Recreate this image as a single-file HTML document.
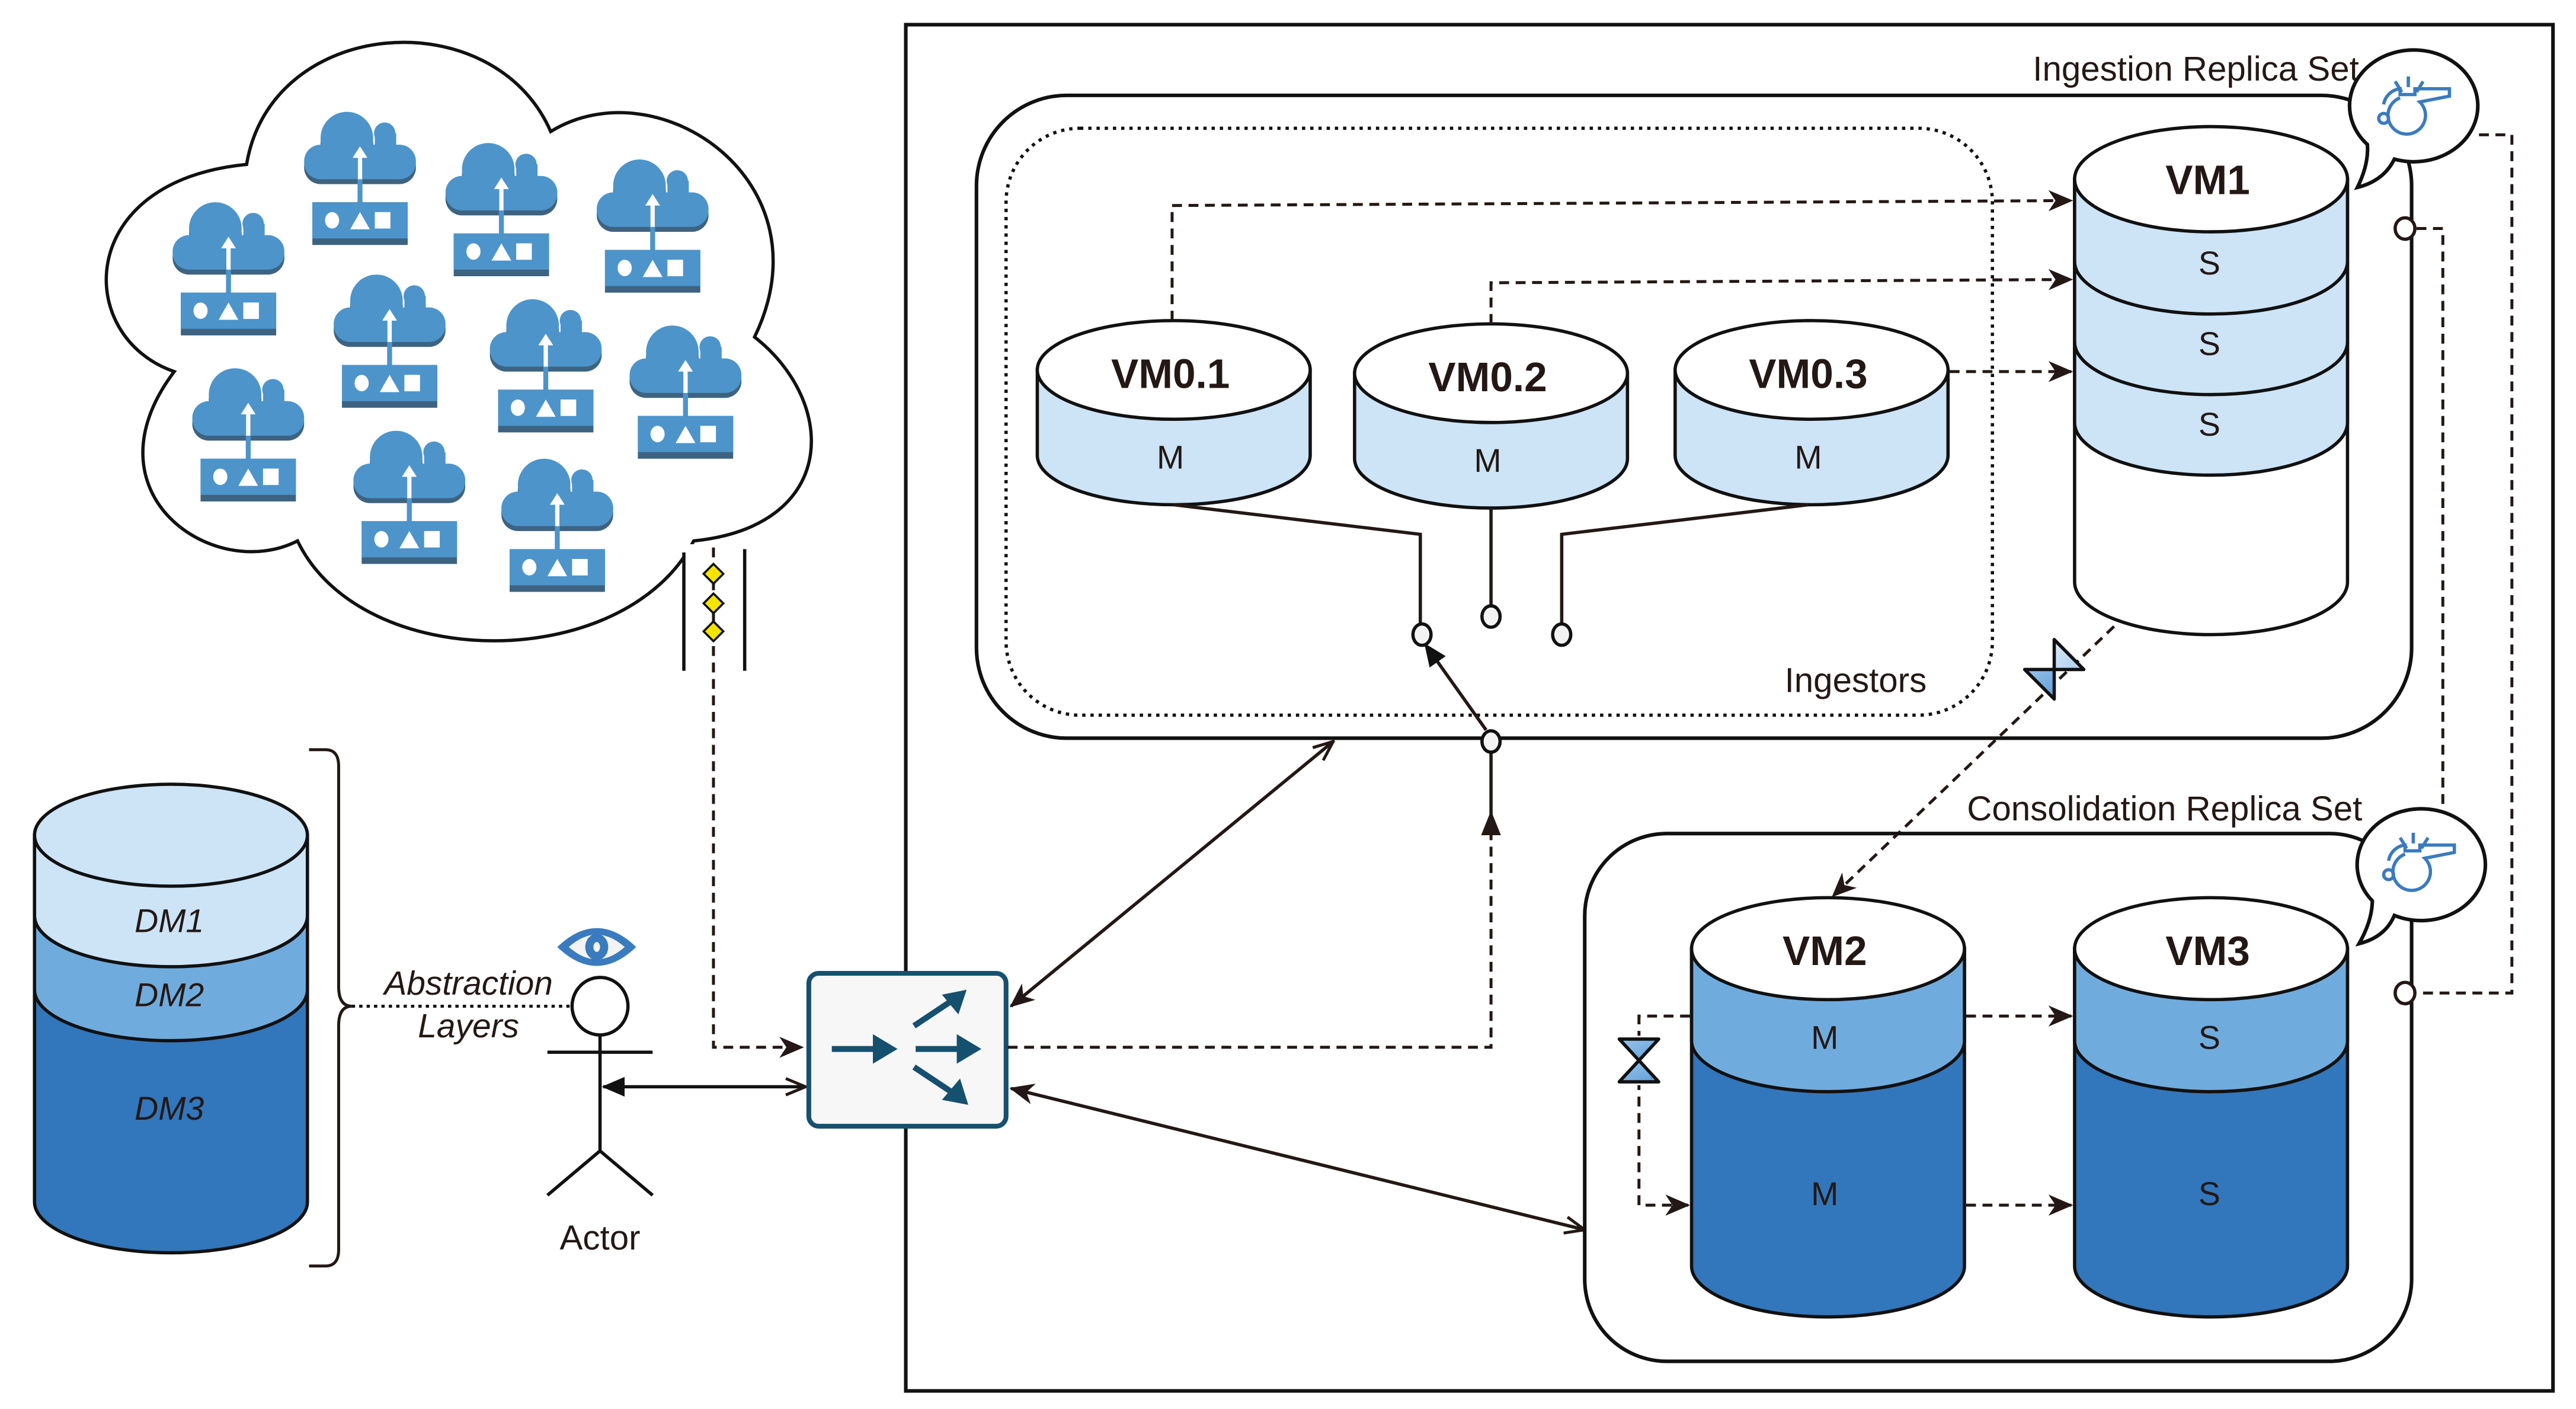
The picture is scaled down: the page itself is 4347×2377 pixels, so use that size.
<!DOCTYPE html>
<html><head><meta charset="utf-8"><style>
html,body{margin:0;padding:0;background:#fff;}
svg{display:block;}
text{font-family:"Liberation Sans",sans-serif;fill:#231815;}
</style></head><body>
<svg width="4347" height="2377" viewBox="0 0 1567 857" preserveAspectRatio="none" xmlns="http://www.w3.org/2000/svg">
<defs>
<marker id="st" viewBox="0 0 14 12" refX="13" refY="6" markerWidth="15" markerHeight="13" markerUnits="userSpaceOnUse" orient="auto-start-reverse">
<path d="M0,0 L14,6 L0,12 L4,6 Z" fill="#231815"/></marker>
<marker id="tri" viewBox="0 0 14 12" refX="13" refY="6" markerWidth="14" markerHeight="12" markerUnits="userSpaceOnUse" orient="auto-start-reverse">
<path d="M0,0 L14,6 L0,12 Z" fill="#111"/></marker>
<marker id="opn" viewBox="0 0 14 12" refX="13" refY="6" markerWidth="14" markerHeight="12" markerUnits="userSpaceOnUse" orient="auto-start-reverse">
<path d="M1,1 L13,6 L1,11" fill="none" stroke="#231815" stroke-width="1.8"/></marker>
<linearGradient id="vg1" x1="0" y1="0" x2="1" y2="1"><stop offset="0" stop-color="#dbeaf8"/><stop offset="1" stop-color="#a9cdef"/></linearGradient>
<linearGradient id="vg2" x1="0" y1="0" x2="1" y2="1"><stop offset="0" stop-color="#9cc4ea"/><stop offset="1" stop-color="#5e9fdb"/></linearGradient>
<g id="ic">
<rect x="-34" y="-45" width="68" height="21" rx="10" fill="#3d6381"/>
<circle cx="-8" cy="-49" r="16" fill="#3d6381"/>
<rect x="-34" y="-48" width="68" height="21" rx="10" fill="#4d94cb"/>
<circle cx="-8" cy="-52" r="16" fill="#4d94cb"/>
<circle cx="15" cy="-55" r="6.5" fill="#4d94cb"/>
<rect x="9" y="-55" width="13" height="10" fill="#4d94cb"/>
<rect x="-1.5" y="-28" width="3" height="16" fill="#4d94cb"/>
<rect x="-1.3" y="-41" width="2.6" height="14" fill="#fff"/>
<path d="M-4.5,-40 L0,-47 L4.5,-40 Z" fill="#fff"/>
<rect x="-29" y="-13" width="58" height="26" fill="#3d6381"/>
<rect x="-29" y="-13" width="58" height="22" fill="#4d94cb"/>
<ellipse cx="-17" cy="-2" rx="4.3" ry="5" fill="#fff"/>
<path d="M-6,3.5 L0,-7 L6,3.5 Z" fill="#fff"/>
<rect x="9" y="-7" width="9.5" height="10" fill="#fff"/>
</g>
<g id="wh" fill="none" stroke="#3a7bbf" stroke-width="2">
<path d="M-5,-10 A11.4,11.4 0 1 0 7,-7.5 L25,-11 L25,-15.5 L4,-15.5 L4,-12 L-5,-12 L-5,-15.5 A11.4 11.4 0 0 0 -15,-6"/>
<circle cx="-15" cy="2.5" r="3"/>
<path d="M-8,-20 L-4,-13.5 M0,-23 L0,-16.5 M9,-20 L5,-13.5"/>
</g>
</defs>

<rect x="551" y="15" width="1002" height="831" fill="none" stroke="#111" stroke-width="2.2"/>

<path d="M150,100 C165,10 300,0 335,80 C400,40 505,110 459,205 C510,245 510,320 422,329 C380,410 220,410 181,329 C130,355 50,300 106,226 C45,205 45,110 150,100 Z" fill="#fff" stroke="#111" stroke-width="2"/>
<use href="#ic" x="219" y="136"/>
<use href="#ic" x="305" y="155"/>
<use href="#ic" x="397" y="165"/>
<use href="#ic" x="139" y="191"/>
<use href="#ic" x="237" y="235"/>
<use href="#ic" x="332" y="250"/>
<use href="#ic" x="417" y="266"/>
<use href="#ic" x="151" y="292"/>
<use href="#ic" x="249" y="330"/>
<use href="#ic" x="339" y="347"/>
<rect x="416" y="331" width="37" height="8" fill="#fff"/>
<line x1="416" y1="336" x2="416" y2="408" stroke="#111" stroke-width="2"/>
<line x1="453" y1="334" x2="453" y2="408" stroke="#111" stroke-width="2"/>
<path d="M434,333 V637 H488" fill="none" stroke="#231815" stroke-width="1.8" stroke-dasharray="6,4" marker-end="url(#st)"/>
<g fill="#f5e400" stroke="#111" stroke-width="1.3">
<path d="M434,343 L440,349 L434,355 L428,349 Z"/>
<path d="M434,361 L440,367 L434,373 L428,367 Z"/>
<path d="M434,378 L440,384 L434,390 L428,384 Z"/>
</g>

<path d="M21,508 V731 A83,31 0 0 0 187,731 V508 Z" fill="#3276bb" stroke="#111" stroke-width="2"/>
<path d="M21,508 V602 A83,31 0 0 0 187,602 V508 Z" fill="#70abdd" stroke="#111" stroke-width="2"/>
<path d="M21,508 V557 A83,31 0 0 0 187,557 V508 Z" fill="#cde3f6" stroke="#111" stroke-width="2"/>
<ellipse cx="104" cy="508" rx="83" ry="31" fill="#cde3f6" stroke="#111" stroke-width="2"/>
<text x="103" y="567" font-size="20" font-style="italic" text-anchor="middle">DM1</text>
<text x="103" y="612" font-size="20" font-style="italic" text-anchor="middle">DM2</text>
<text x="103" y="681" font-size="20" font-style="italic" text-anchor="middle">DM3</text>
<path d="M188,456 H198 Q206,456 206,466 V600 Q206,612 214,612 M214,612 Q206,612 206,624 V760 Q206,770 198,770 H188" fill="none" stroke="#231815" stroke-width="1.8"/>
<line x1="214" y1="612" x2="348" y2="612" stroke="#111" stroke-width="1.8" stroke-dasharray="2,2.5"/>
<text x="285" y="605" font-size="20.5" font-style="italic" text-anchor="middle">Abstraction</text>
<text x="285" y="631" font-size="20.5" font-style="italic" text-anchor="middle">Layers</text>

<path d="M339,576 Q363,553 387,576 Q363,599 339,576 Z" fill="#3a7bbf"/>
<path d="M346,576 Q363,561 380,576 Q363,591 346,576 Z" fill="#f3f3f3"/>
<ellipse cx="363" cy="576" rx="7" ry="8" fill="#3a7bbf"/>
<ellipse cx="363" cy="576" rx="2" ry="3" fill="#f3f3f3"/>
<ellipse cx="365" cy="612" rx="17" ry="17.5" fill="#fff" stroke="#111" stroke-width="2"/>
<path d="M365,630 V700 L333,727 M365,700 L397,727 M333,640 H397" fill="none" stroke="#111" stroke-width="2"/>
<text x="365" y="760" font-size="21" text-anchor="middle">Actor</text>
<line x1="367" y1="661" x2="490" y2="661" stroke="#111" stroke-width="2" marker-start="url(#tri)" marker-end="url(#opn)"/>

<rect x="492" y="592" width="120" height="93" rx="6" fill="#f7f7f7" stroke="#15506f" stroke-width="2.9"/>
<g fill="#15506f" stroke="#15506f">
<line x1="506" y1="638" x2="532" y2="638" stroke-width="3.6"/>
<path d="M531,629 L546,638 L531,647 Z" stroke="none"/>
<line x1="557" y1="638" x2="583" y2="638" stroke-width="3.6"/>
<path d="M582,629 L597,638 L582,647 Z" stroke="none"/>
<line x1="556" y1="624" x2="580" y2="608" stroke-width="3.6"/>
<path d="M588,602 L583,617 L573,605 Z" stroke="none"/>
<line x1="556" y1="649" x2="580" y2="665" stroke-width="3.6"/>
<path d="M589,672 L573,669 L584,656 Z" stroke="none"/>
</g>
<line x1="615" y1="612" x2="811" y2="451" stroke="#231815" stroke-width="2" marker-start="url(#st)" marker-end="url(#opn)"/>
<line x1="615" y1="662" x2="964" y2="748" stroke="#231815" stroke-width="2" marker-start="url(#st)" marker-end="url(#opn)"/>
<path d="M613,637 H907 V498" fill="none" stroke="#231815" stroke-width="1.8" stroke-dasharray="6,4"/>

<rect x="594" y="58" width="873" height="391" rx="55" fill="none" stroke="#111" stroke-width="2.2"/>
<rect x="612" y="78" width="600" height="357" rx="45" fill="none" stroke="#111" stroke-width="2" stroke-dasharray="2,3"/>
<text x="1435" y="49" font-size="21" text-anchor="end">Ingestion Replica Set</text>
<text x="1172" y="421" font-size="21" text-anchor="end">Ingestors</text>

<g stroke="#111" stroke-width="2">
<path d="M631,225 V277 A83,30 0 0 0 797,277 V225 Z" fill="#cde3f6"/>
<ellipse cx="714" cy="225" rx="83" ry="30" fill="#fff"/>
<path d="M824,227 V279 A83,30 0 0 0 990,279 V227 Z" fill="#cde3f6"/>
<ellipse cx="907" cy="227" rx="83" ry="30" fill="#fff"/>
<path d="M1019,225 V277 A83,30 0 0 0 1185,277 V225 Z" fill="#cde3f6"/>
<ellipse cx="1102" cy="225" rx="83" ry="30" fill="#fff"/>
</g>
<text x="712" y="236" font-size="25" font-weight="bold" text-anchor="middle">VM0.1</text>
<text x="905" y="238" font-size="25" font-weight="bold" text-anchor="middle">VM0.2</text>
<text x="1100" y="236" font-size="25" font-weight="bold" text-anchor="middle">VM0.3</text>
<text x="712" y="285" font-size="20" text-anchor="middle">M</text>
<text x="905" y="287" font-size="20" text-anchor="middle">M</text>
<text x="1100" y="285" font-size="20" text-anchor="middle">M</text>
<path d="M714,307 L864,325 V380 M907,309 V369 M1100,307 L950,325 V379" fill="none" stroke="#231815" stroke-width="2"/>
<g fill="#f3f3f3" stroke="#111" stroke-width="2">
<ellipse cx="865" cy="386" rx="5.5" ry="6.5"/>
<ellipse cx="907" cy="375" rx="5.5" ry="6.5"/>
<ellipse cx="950" cy="386" rx="5.5" ry="6.5"/>
</g>
<line x1="907" y1="508" x2="907" y2="458" stroke="#231815" stroke-width="2"/>
<path d="M901,508 L907,493 L913,508 Z" fill="#231815"/>
<line x1="904" y1="444" x2="867" y2="392" stroke="#231815" stroke-width="2" marker-end="url(#tri)"/>
<ellipse cx="907" cy="451" rx="5.5" ry="6.5" fill="#f3f3f3" stroke="#111" stroke-width="2"/>
<path d="M713,195 V125 L1260,122" fill="none" stroke="#231815" stroke-width="1.8" stroke-dasharray="6,4" marker-end="url(#st)"/>
<path d="M907,197 V172 L1260,170" fill="none" stroke="#231815" stroke-width="1.8" stroke-dasharray="6,4" marker-end="url(#st)"/>
<path d="M1186,226 H1260" fill="none" stroke="#231815" stroke-width="1.8" stroke-dasharray="6,4" marker-end="url(#st)"/>

<g stroke="#111" stroke-width="2">
<path d="M1262,109 V354 A83,32 0 0 0 1428,354 V109 Z" fill="#fff"/>
<path d="M1262,109 V257 A83,32 0 0 0 1428,257 V109 Z" fill="#cde3f6"/>
<path d="M1262,159 A83,32 0 0 0 1428,159 M1262,208 A83,32 0 0 0 1428,208" fill="none"/>
<ellipse cx="1345" cy="109" rx="83" ry="32" fill="#fff"/>
</g>
<text x="1343" y="118" font-size="25" font-weight="bold" text-anchor="middle">VM1</text>
<text x="1344" y="167" font-size="20" text-anchor="middle">S</text>
<text x="1344" y="216" font-size="20" text-anchor="middle">S</text>
<text x="1344" y="265" font-size="20" text-anchor="middle">S</text>

<line x1="1286" y1="381" x2="1115" y2="545" stroke="#231815" stroke-width="1.8" stroke-dasharray="6,4" marker-end="url(#st)"/>
<g stroke="#111" stroke-width="2" stroke-linejoin="round">
<path d="M1249.6,389 L1249.6,407.2 L1267.6,407.2 Z" fill="url(#vg1)"/>
<path d="M1231.6,407.2 L1249.6,407.2 L1249.6,425.2 Z" fill="url(#vg2)"/>
</g>

<rect x="964" y="507" width="503" height="321" rx="50" fill="none" stroke="#111" stroke-width="2.2"/>
<text x="1437" y="499" font-size="21" text-anchor="end">Consolidation Replica Set</text>
<g stroke="#111" stroke-width="2">
<path d="M1029,577 V770 A83,31 0 0 0 1195,770 V577 Z" fill="#3276bb"/>
<path d="M1029,577 V633 A83,31 0 0 0 1195,633 V577 Z" fill="#70abdd"/>
<ellipse cx="1112" cy="577" rx="83" ry="31" fill="#fff"/>
<path d="M1262,577 V770 A83,31 0 0 0 1428,770 V577 Z" fill="#3276bb"/>
<path d="M1262,577 V633 A83,31 0 0 0 1428,633 V577 Z" fill="#70abdd"/>
<ellipse cx="1345" cy="577" rx="83" ry="31" fill="#fff"/>
</g>
<text x="1110" y="587" font-size="25" font-weight="bold" text-anchor="middle">VM2</text>
<text x="1343" y="587" font-size="25" font-weight="bold" text-anchor="middle">VM3</text>
<text x="1110" y="638" font-size="20" text-anchor="middle">M</text>
<text x="1110" y="733" font-size="20" text-anchor="middle">M</text>
<text x="1344" y="638" font-size="20" text-anchor="middle">S</text>
<text x="1344" y="733" font-size="20" text-anchor="middle">S</text>
<path d="M1028,618 H997 V733 H1027" fill="none" stroke="#231815" stroke-width="1.8" stroke-dasharray="6,4" marker-end="url(#st)"/>
<g stroke="#111" stroke-width="2" stroke-linejoin="round">
<rect x="990" y="630" width="14" height="30" fill="#fff" stroke="none"/>
<path d="M985,632 L1009,632 L997,645 Z" fill="url(#vg2)"/>
<path d="M985,658 L1009,658 L997,645 Z" fill="url(#vg2)"/>
</g>
<path d="M1196,618 H1260" fill="none" stroke="#231815" stroke-width="1.8" stroke-dasharray="6,4" marker-end="url(#st)"/>
<path d="M1196,733 H1260" fill="none" stroke="#231815" stroke-width="1.8" stroke-dasharray="6,4" marker-end="url(#st)"/>

<path d="M1508,82 H1528 V604 H1470" fill="none" stroke="#231815" stroke-width="1.8" stroke-dasharray="6,4"/>
<path d="M1470,139 H1486 V490" fill="none" stroke="#231815" stroke-width="1.8" stroke-dasharray="6,4"/>
<ellipse cx="1463" cy="139" rx="6" ry="6.5" fill="#fff" stroke="#231815" stroke-width="2"/>
<ellipse cx="1463" cy="604" rx="6" ry="6.5" fill="#fff" stroke="#231815" stroke-width="2"/>

<path d="M1456.5,96.8 A39,34 0 1 0 1440.1,87.9 Q1441,100 1434,114 Q1450,110 1456.5,96.8 Z" fill="#fff" stroke="#111" stroke-width="2.2"/>
<use href="#wh" x="1465" y="69.5"/>
<path d="M1456.5,556.8 A39,34 0 1 0 1443.1,547.9 Q1443,560 1435,574 Q1451,570 1456.5,556.8 Z" fill="#fff" stroke="#111" stroke-width="2.2"/>
<use href="#wh" x="1468" y="529.5"/>
</svg>
</body></html>
